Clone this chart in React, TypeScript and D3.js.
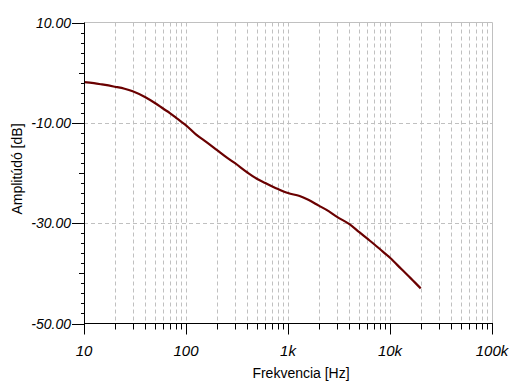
import React from 'react';
import * as d3 from 'd3';

// frequency response (Hz, dB)
const freqs = [
  10, 12.5, 15, 20, 25, 30, 40, 50, 60, 70, 80, 90, 100, 125, 160, 200, 250, 300,
  400, 500, 600, 800, 1000, 1300, 1600, 2000, 2500, 3000, 4000, 5000, 6000, 7000,
  8000, 10000, 13000, 16000, 20000,
];
const ampDb = [
  -1.9, -2.1, -2.35, -2.8, -3.2, -3.7, -4.9, -6.1, -7.2, -8.1, -9.0, -9.8, -10.5,
  -12.3, -13.9, -15.4, -16.9, -18.0, -19.9, -21.2, -22.0, -23.2, -24.0, -24.6,
  -25.4, -26.5, -27.6, -28.7, -30.2, -31.8, -33.1, -34.2, -35.2, -36.9, -39.2,
  -41.0, -43.0,
];

const xTickValues = [10, 100, 1000, 10000, 100000];
const xTickLabels = ['10', '100', '1k', '10k', '100k'];
const yTickValues = [10, -10, -30, -50];
const yTickLabels = ['10.00', '-10.00', '-30.00', '-50.00'];

const W = 520;
const H = 390;
const FONT = '"Liberation Sans", Arial, sans-serif';

export default function App() {
  const x = d3.scaleLog().domain([10, 100000]).range([84, 492]);
  const y = d3.scaleLinear().domain([-50, 10]).range([323.5, 22.5]);

  // minor frequency positions: 2..9 in every decade
  const minorFreqs: number[] = [];
  [10, 100, 1000, 10000].forEach((d) => {
    for (let k = 2; k <= 9; k++) minorFreqs.push(d * k);
  });
  const gridFreqs = [...minorFreqs, 100, 1000, 10000];

  // y ticks every 2 dB
  const yMinor = d3.range(-50, 10.01, 2);

  const points = freqs.map((f, i) => [f, ampDb[i]] as [number, number]);
  const line = d3
    .line<[number, number]>()
    .x((d) => x(d[0]))
    .y((d) => y(d[1]))
    .curve(d3.curveMonotoneX);

  const left = x(10);
  const right = x(100000);
  const top = y(10);
  const bottom = y(-50);

  return (
    <svg
      width={W}
      height={H}
      style={{ position: 'absolute', left: 0, top: 0, background: '#fff' }}
      fontFamily={FONT}
    >
      {/* grid */}
      {gridFreqs.map((f) => (
        <line
          key={'vg' + f}
          x1={Math.round(x(f)) + 0.5}
          x2={Math.round(x(f)) + 0.5}
          y1={top}
          y2={bottom}
          stroke="#c0c0c0"
          strokeDasharray="4,3"
        />
      ))}
      {[-10, -30].map((v) => (
        <line
          key={'hg' + v}
          x1={left}
          x2={right}
          y1={Math.round(y(v)) + 0.5}
          y2={Math.round(y(v)) + 0.5}
          stroke="#c0c0c0"
          strokeDasharray="4,3"
        />
      ))}
      {/* top and right border */}
      <line x1={left} x2={right + 0.5} y1={top} y2={top} stroke="#c0c0c0" />
      <line x1={right + 0.5} x2={right + 0.5} y1={top} y2={bottom} stroke="#c0c0c0" />

      {/* curve */}
      <path d={line(points) || ''} fill="none" stroke="#6a0000" strokeWidth={2.2} />

      {/* left axis */}
      <line x1={left + 0.5} x2={left + 0.5} y1={top} y2={bottom} stroke="#000" />
      {yMinor.map((v) => {
        const major = yTickValues.includes(v);
        const medium = !major && v % 10 === 0;
        const len = major ? 12 : medium ? 5 : 3;
        const yy = Math.round(y(v)) + 0.5;
        return (
          <line key={'yt' + v} x1={left - len} x2={left} y1={yy} y2={yy} stroke="#000" />
        );
      })}
      {yTickValues.map((v, i) => (
        <text
          key={'yl' + v}
          x={71}
          y={y(v)}
          dy="0.36em"
          textAnchor="end"
          fontSize={14}
          fontStyle="italic"
          fill="#000"
        >
          {yTickLabels[i]}
        </text>
      ))}

      {/* bottom axis */}
      <line x1={left} x2={right + 1} y1={bottom} y2={bottom} stroke="#000" />
      {[...minorFreqs, ...xTickValues].map((f) => {
        const major = xTickValues.includes(f);
        const xx = Math.round(x(f)) + 0.5;
        return (
          <line
            key={'xt' + f}
            x1={xx}
            x2={xx}
            y1={bottom}
            y2={bottom + (major ? 11 : 6)}
            stroke="#000"
          />
        );
      })}
      {xTickValues.map((f, i) => (
        <text
          key={'xl' + f}
          x={x(f)}
          y={356}
          textAnchor="middle"
          fontSize={15}
          fontStyle="italic"
          fill="#000"
        >
          {xTickLabels[i]}
        </text>
      ))}

      {/* axis titles */}
      <text x={301} y={378} textAnchor="middle" fontSize={14} fill="#000">
        Frekvencia [Hz]
      </text>
      <text
        transform={`translate(22,169) rotate(-90)`}
        textAnchor="middle"
        fontSize={14}
        fill="#000"
      >
        Amplitúdó [dB]
      </text>
    </svg>
  );
}
